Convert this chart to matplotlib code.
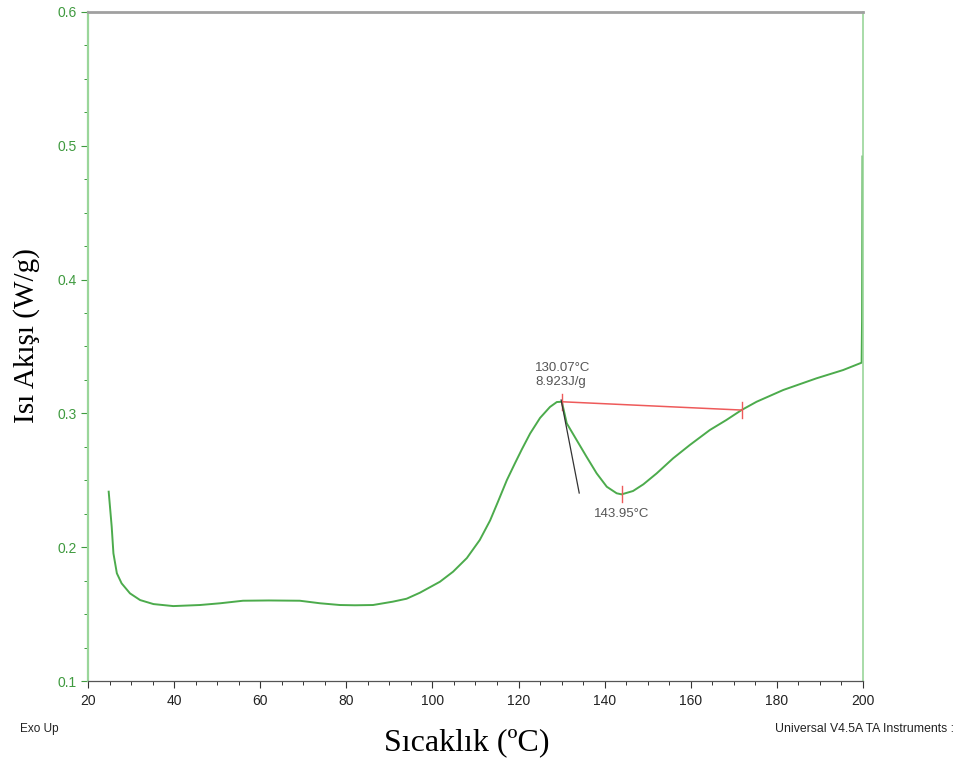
import matplotlib
matplotlib.use("Agg")
import matplotlib.pyplot as plt
from matplotlib.ticker import MultipleLocator

# DSC heat-flow trace (temperature in °C, heat flow in W/g)
temperature = [24.8, 25.5, 25.9, 26.7, 27.8, 29.75, 32.1, 35.2, 39.8, 46.0, 50.7, 56.0,
               62.0, 69.2, 73.9, 78.5, 82.0, 86.2, 90.8, 94.0, 97.1, 101.75, 104.8, 108.0,
               111.0, 113.4, 115.2, 117.3, 119.2, 120.8, 122.7, 125.0, 127.3, 128.9, 130.07,
               131.2, 133.5, 135.8, 138.15, 140.5, 142.8, 143.95, 146.6, 149.0, 152.1, 155.9,
               159.8, 164.45, 168.3, 171.8, 175.3, 181.5, 189.2, 195.4, 199.7, 199.8, 199.9]
heat_flow = [0.2415, 0.2153, 0.1954, 0.1805, 0.1730, 0.1655, 0.1605, 0.1575, 0.1560, 0.1568,
             0.1581, 0.1600, 0.1602, 0.1600, 0.1581, 0.1568, 0.1566, 0.1568, 0.1593, 0.1615,
             0.1660, 0.1742, 0.1817, 0.1919, 0.2054, 0.2200, 0.2338, 0.2502, 0.2629, 0.2733,
             0.2850, 0.2966, 0.3048, 0.3085, 0.3087, 0.2926, 0.2801, 0.2676, 0.2552, 0.2452,
             0.2403, 0.2395, 0.2420, 0.2470, 0.2552, 0.2664, 0.2764, 0.2876, 0.2951, 0.3025,
             0.3087, 0.3175, 0.3262, 0.3324, 0.3379, 0.3700, 0.4920]

# Peak integration results
onset_T, onset_flow = 130.07, 0.3087
end_T, end_flow = 171.8, 0.3025
peak_T, peak_flow = 143.95, 0.2395
enthalpy = 8.923
tangent_T = [129.9, 134.1]
tangent_flow = [0.3100, 0.2405]

x_ticks = [20, 40, 60, 80, 100, 120, 140, 160, 180, 200]
y_ticks = [0.1, 0.2, 0.3, 0.4, 0.5, 0.6]

green = "#4cab4c"
axis_green = "#9ad69a"
label_green = "#3f9a3f"
red = "#ee5a5a"

fig = plt.figure(figsize=(9.62, 7.67), dpi=100)
ax = fig.add_axes([0.0915, 0.1121, 0.8055, 0.8723])

ax.plot(temperature, heat_flow, color=green, lw=1.4, solid_joinstyle="round")

# integration baseline, limit and peak markers, onset tangent
ax.plot([onset_T, end_T], [onset_flow, end_flow], color=red, lw=1.1)
for t, f in [(onset_T, onset_flow), (end_T, end_flow), (peak_T, peak_flow)]:
    ax.plot([t, t], [f - 0.006, f + 0.006], color=red, lw=1.0)
ax.plot(tangent_T, tangent_flow, color="#333333", lw=0.9)

ax.text(123.8, 0.319, f"{onset_T:.2f}°C\n{enthalpy:.3f}J/g", fontsize=9.5, color="#555555",
        family="Liberation Sans", ha="left", va="bottom", linespacing=1.2)
ax.text(144.0, 0.229, f"{peak_T:.2f}°C", fontsize=9.5, color="#555555",
        family="Liberation Sans", ha="center", va="top")

ax.set_xlim(20, 200)
ax.set_ylim(0.1, 0.6)
ax.set_xticks(x_ticks)
ax.set_yticks(y_ticks)
ax.set_xticklabels([str(v) for v in x_ticks])
ax.set_yticklabels([f"{v:.1f}" for v in y_ticks])
ax.xaxis.set_minor_locator(MultipleLocator(5))
ax.yaxis.set_minor_locator(MultipleLocator(0.025))

ax.tick_params(axis="x", which="major", length=5, width=0.8, color="#333333",
               labelsize=10, labelcolor="#222222", pad=4)
ax.tick_params(axis="x", which="minor", length=3, width=0.7, color="#333333")
ax.tick_params(axis="y", which="major", length=5, width=0.8, color=label_green,
               labelsize=10, labelcolor=label_green, pad=3)
ax.tick_params(axis="y", which="minor", length=3, width=0.7, color=label_green)
for lab in ax.get_xticklabels() + ax.get_yticklabels():
    lab.set_family("Liberation Sans")

ax.spines["left"].set_color(axis_green)
ax.spines["left"].set_linewidth(1.6)
ax.spines["right"].set_color(axis_green)
ax.spines["right"].set_linewidth(1.2)
ax.spines["top"].set_color("#a0a0a0")
ax.spines["top"].set_linewidth(2.0)
ax.spines["bottom"].set_color("#555555")
ax.spines["bottom"].set_linewidth(0.9)

fig.text(0.028, 0.562, "Isı Akışı (W/g)", family="Liberation Serif", fontsize=21,
         rotation=90, ha="center", va="center")
fig.text(0.485, 0.032, "Sıcaklık (ºC)", family="Liberation Serif", fontsize=23,
         ha="center", va="center")

fig.text(0.021, 0.050, "Exo Up", family="Liberation Sans", fontsize=8.5, color="#222222",
         ha="left", va="center")
fig.text(0.806, 0.050, "Universal V4.5A TA Instruments :", family="Liberation Sans",
         fontsize=8.8, color="#222222", ha="left", va="center")

fig.savefig("out.png", dpi=100)
